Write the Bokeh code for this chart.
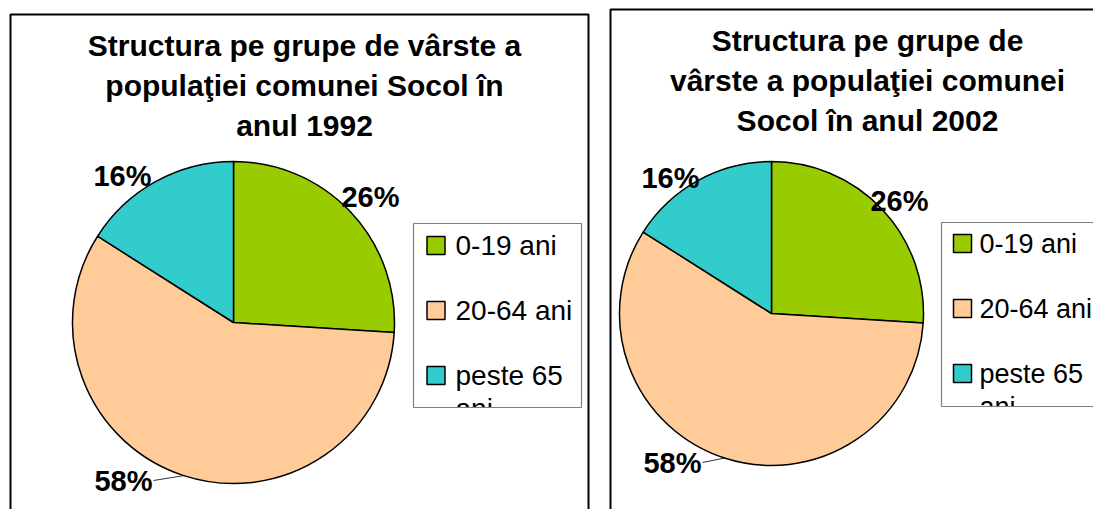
import math
from bokeh.plotting import figure
from bokeh.models import Range1d
from bokeh.core.properties import value
from bokeh.embed import file_html
from bokeh.resources import INLINE

# ---- data ----
categories = ["0-19 ani", "20-64 ani", "peste 65 ani"]
legend_lines = [["0-19 ani"], ["20-64 ani"], ["peste 65", "ani"]]
values_1992 = [26, 58, 16]
values_2002 = [26, 58, 16]
colors = ["#99CC00", "#FFCC99", "#33CCCC"]
title_1992 = ["Structura pe grupe de vârste a", "populaţiei comunei Socol în", "anul 1992"]
title_2002 = ["Structura pe grupe de", "vârste a populaţiei comunei", "Socol în anul 2002"]

FONT = "Liberation Sans"

# ---- layout (page pixel coordinates) ----
panels = [
    dict(values=values_1992, title=title_1992,
         box=(10, 14, 588, 540), cx=233, cy=322, r=161,
         title_x=304, title_y=[45, 85, 125],
         label_pos=[(370, 196), (123, 480), (122, 175)],
         legend_box=(413, 223, 581, 407), sq_x=435.5, txt_x=455, leg_fs="28px",
         rows_y=[245, 310, 375]),
    dict(values=values_2002, title=title_2002,
         box=(610, 9, 1130, 540), cx=771, cy=313, r=152,
         title_x=867, title_y=[40, 80, 120],
         label_pos=[(899, 200), (672, 462), (670, 177)],
         legend_box=(941, 222, 1120, 406), sq_x=962, txt_x=979, leg_fs="27px",
         rows_y=[243, 308, 373]),
]

W, H = 1093, 509
p = figure(width=W, height=H, x_range=Range1d(0, W), y_range=Range1d(H, 0),
           output_backend="svg", toolbar_location=None, min_border=0,
           x_axis_type=None, y_axis_type=None)
p.grid.visible = False
p.outline_line_color = None
p.background_fill_color = "white"
p.border_fill_color = "white"

for pn in panels:
    x0, y0, x1, y1 = pn["box"]
    p.quad(left=x0, right=x1, top=y0, bottom=y1, fill_color="white",
           line_color="black", line_width=2)
    # title
    for line, ty in zip(pn["title"], pn["title_y"]):
        p.text(x=[pn["title_x"]], y=[ty], text=[line], text_font=value(FONT),
               text_font_style="bold", text_font_size="30px", text_align="center",
               text_baseline="middle", text_color="black")
    # pie
    vals = pn["values"]
    total = float(sum(vals))
    cum = 0.0
    starts, ends, mids = [], [], []
    for v in vals:
        a0 = math.pi / 2 - 2 * math.pi * cum / total
        cum += v
        a1 = math.pi / 2 - 2 * math.pi * cum / total
        starts.append(a0)
        ends.append(a1)
        mids.append((a0 + a1) / 2)
    p.wedge(x=pn["cx"], y=pn["cy"], radius=pn["r"], start_angle=starts, end_angle=ends,
            direction="clock", fill_color=colors, line_color="black", line_width=1.5)
    # leader line for the large slice (index 1)
    lx, ly = pn["label_pos"][1]
    ex = pn["cx"] + pn["r"] * math.cos(mids[1])
    ey = pn["cy"] - pn["r"] * math.sin(mids[1])
    p.line(x=[lx + 30, ex], y=[ly, ey], line_color="black", line_width=0.8)
    # percent labels
    for v, (tx, ty) in zip(vals, pn["label_pos"]):
        p.text(x=[tx], y=[ty], text=[f"{v}%"], text_font=value(FONT),
               text_font_style="bold", text_font_size="29px", text_align="center",
               text_baseline="middle", text_color="black")
    # legend
    lx0, ly0, lx1, ly1 = pn["legend_box"]
    p.quad(left=lx0, right=lx1, top=ly0, bottom=ly1, fill_color="white",
           line_color=None)
    for lines, col, ry in zip(legend_lines, colors, pn["rows_y"]):
        p.rect(x=pn["sq_x"], y=ry, width=18, height=18, fill_color=col,
               line_color="black", line_width=1.5)
        for k, t in enumerate(lines):
            p.text(x=[pn["txt_x"]], y=[ry + 33 * k], text=[t], text_font=value(FONT),
                   text_font_size=pn["leg_fs"], text_align="left", text_baseline="middle",
                   text_color="black")
    # mask text overflowing the legend box
    p.quad(left=lx0 - 1, right=lx1 + 1, top=ly1 + 0.5, bottom=ly1 + 40,
           fill_color="white", line_color=None)
    p.quad(left=lx0, right=lx1, top=ly0, bottom=ly1, fill_color=None,
           line_color="#808080", line_width=1.2)

open("out.html", "w").write(file_html(p, INLINE))
